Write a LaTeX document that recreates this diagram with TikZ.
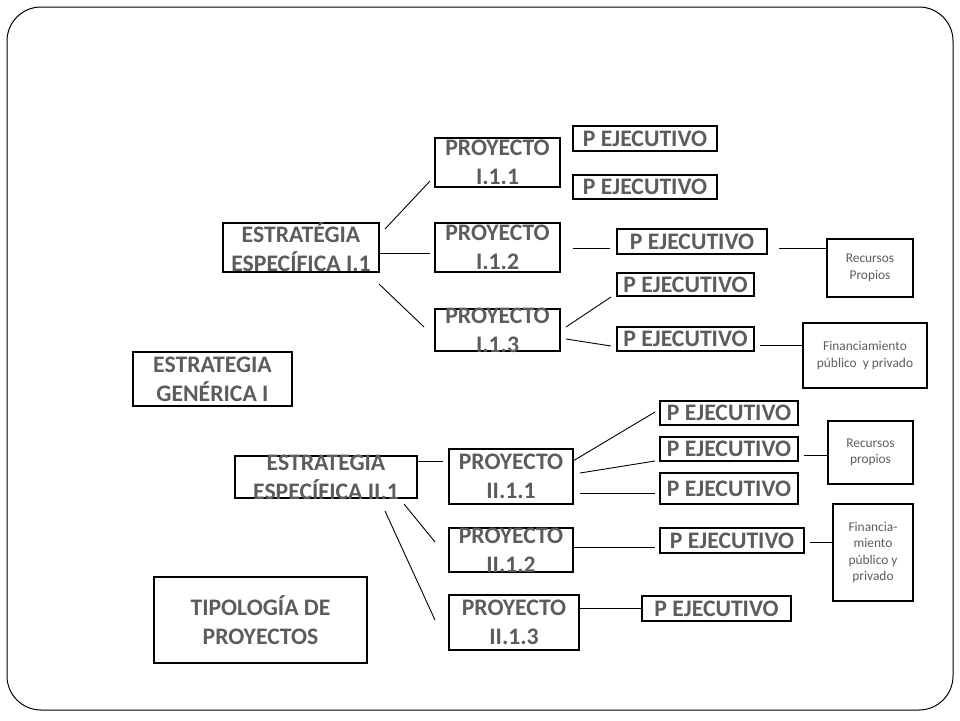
\documentclass[tikz,border=0pt]{standalone}
\usepackage{fontspec}
\setmainfont{Carlito}
\usetikzlibrary{calc}
\definecolor{gristexto}{RGB}{92,92,92}
\def\caja[#1](#2)(#3,#4)(#5,#6)#7{\node[caja, minimum width={#5-#3}, minimum height={#6-#4}] (#2) at ({(#3+#5)/2}, {(#4+#6)/2}) {}; \node[#1] at (#2.center) {#7};}

\begin{document}
\begin{tikzpicture}[x=1pt, y=-1pt,
	caja/.style={draw=black, line width=1.1pt, inner sep=0pt, outer sep=0pt},
	grande/.style={text=gristexto, font=\fontsize{23.7}{29}\selectfont\bfseries, align=center, inner sep=0pt},
	chico/.style={text=gristexto, font=\fontsize{13.4}{16.5}\selectfont, align=center, inner sep=0pt},
	linea/.style={line width=0.9pt}]
		%%%%% START %%%%%
		
		\useasboundingbox (0, 0) rectangle (960, 720);
		\draw[line width=1pt, rounded corners=34pt] (7, 7) rectangle (953, 710);
		
		\caja[grande](gen)(133, 352)(292, 406){ESTRATEGIA\\GENÉRICA I}
		\caja[grande](tip)(154, 577)(367, 663){TIPOLOGÍA DE\\PROYECTOS}
		
		\caja[grande](e11)(223, 223)(379, 272){ESTRATÉGIA\\ESPECÍFICA I.1}
		\caja[grande](p111)(435, 138)(560, 187){PROYECTO\\I.1.1}
		\caja[grande](p112)(435, 223)(560, 272){PROYECTO\\I.1.2}
		\caja[grande](p113)(435, 309)(560, 351){PROYECTO\\I.1.3}
		
		\caja[grande](x1)(573, 126)(717, 151){P EJECUTIVO}
		\caja[grande](x2)(573, 175)(717, 199){P EJECUTIVO}
		\caja[grande](x3)(617, 229)(767, 254){P EJECUTIVO}
		\caja[grande](x4)(617, 273)(754, 296){P EJECUTIVO}
		\caja[grande](x5)(617, 327)(754, 351){P EJECUTIVO}
		\caja[chico](r1)(827, 239)(913, 297){Recursos\\Propios}
		\caja[chico](f1)(803, 323)(927, 388){Financiamiento\\público~ y privado}
		
		\caja[grande](e21)(235, 456)(417, 498){ESTRATEGIA\\ESPECÍFICA II.1}
		\caja[grande](p211)(449, 449)(573, 504){PROYECTO\\II.1.1}
		\caja[grande](p212)(449, 528)(573, 572){PROYECTO\\II.1.2}
		\caja[grande](p213)(449, 595)(579, 650){PROYECTO\\II.1.3}
		
		\caja[grande](x6)(660, 401)(798, 425){P EJECUTIVO}
		\caja[grande](x7)(660, 437)(798, 461){P EJECUTIVO}
		\caja[grande](x8)(660, 473)(798, 504){P EJECUTIVO}
		\caja[grande](x9)(660, 528)(804, 553){P EJECUTIVO}
		\caja[grande](x10)(642, 596)(791, 621){P EJECUTIVO}
		\caja[chico](r2)(828, 421)(913, 484){Recursos\\propios}
		\caja[chico](f2)(833, 504)(913, 601){Financia-\\miento\\público y\\privado}
		
		% estrategia I.1
		\draw[linea] ($(e11.north east)+(6, 6)$) -- ($(p111.south west)+(-5, -6)$);
		\draw[linea] ($(e11.east)+(0, 6)$) -- ($(p112.west)+(-5, 6)$);
		\draw[linea] ($(e11.south east)+(0, 12)$) -- ($(p113.north west)+(-11, 18)$);
		\draw[linea] ($(p112.east)+(13, 0.5)$) -- ($(x3.west)+(-7, 6.5)$);
		\draw[linea] ($(x3.east)+(12, 6.5)$) -- ($(r1.west)+(0, -20)$);
		\draw[linea] ($(p113.east)+(6, -3)$) -- ($(x4.south west)+(-6, 1)$);
		\draw[linea] ($(p113.east)+(6, 9)$) -- ($(x5.west)+(-6, 7)$);
		\draw[linea] ($(x5.east)+(6, 6)$) -- ($(f1.west)+(0, -10.5)$);
		
		% estrategia II.1
		\draw[linea] ($(e21.north east)+(0, 5)$) -- ($(p211.west)+(-6, -15.5)$);
		\draw[linea] ($(e21.south east)+(-13, 6)$) -- ($(p212.west)+(-14, -8)$);
		\draw[linea] ($(e21.south east)+(-32, 13)$) -- ($(p213.west)+(-14, -2.5)$);
		\draw[linea] ($(p211.east)+(0, -15.5)$) -- ($(x6.west)+(-5, -1)$);
		\draw[linea] ($(p211.east)+(7, -3.5)$) -- ($(x7.west)+(-5, 12)$);
		\draw[linea] ($(p211.east)+(7, 16.5)$) -- ($(x8.west)+(-5, 4.5)$);
		\draw[linea] ($(x7.east)+(6, 6)$) -- ($(r2.west)+(0, 2.5)$);
		\draw[linea] ($(p212.east)+(0, -3)$) -- ($(x9.west)+(-5, 6.5)$);
		\draw[linea] ($(x9.east)+(6, 1.5)$) -- ($(f2.west)+(0, -10.5)$);
		\draw[linea] ($(p213.east)+(0, -14.5)$) -- ($(x10.west)+(0, -0.5)$);
		
		%%%%% END %%%%%
	\end{tikzpicture}
\end{document}
